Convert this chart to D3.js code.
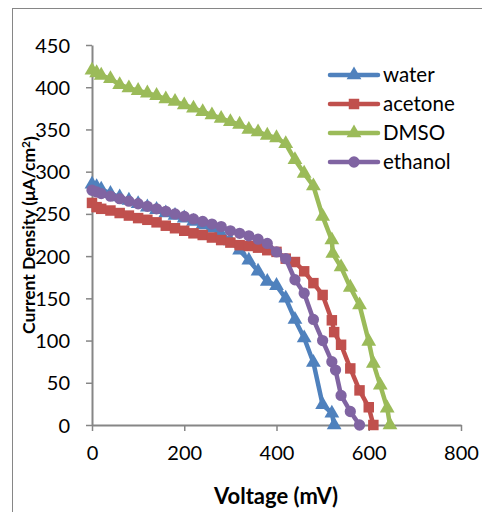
<!DOCTYPE html>
<html>
<head>
<meta charset="utf-8">
<script src="https://cdn.jsdelivr.net/npm/d3@7"></script>
<style>
  body { margin: 0; background: #fff; }
  svg { display: block; font-family: Lato, "Open Sans", sans-serif; }
</style>
</head>
<body>
<svg id="chart" width="482" height="512"></svg>
<script>
// series data (voltage in mV, current density in uA/cm2)
var waterV = [0, 10, 20, 40, 60, 80, 100, 120, 140, 160, 180, 200, 220, 240, 260, 280, 300, 320, 340, 360, 380, 400, 420, 440, 460, 480, 500, 520, 525];
var waterJ = [285, 282, 279, 274, 270, 266, 262, 258, 255, 251, 248, 245, 241, 237, 233, 226, 218, 207, 195, 182, 170, 165, 150, 125, 103, 74, 24, 14, 0];

var acetoneV = [0, 10, 20, 40, 60, 80, 100, 120, 140, 160, 180, 200, 220, 240, 260, 280, 300, 320, 340, 360, 380, 400, 420, 440, 460, 480, 500, 520, 525, 540, 560, 580, 600, 610];
var acetoneJ = [263, 258, 256, 254, 251, 248, 245, 243, 240, 236, 233, 230, 227, 225, 222, 219, 216, 213, 212, 210, 207, 205, 197, 193, 182, 168, 154, 124, 110, 95, 67, 41, 21, 0];

var dmsoV = [0, 10, 20, 40, 60, 80, 100, 120, 140, 160, 180, 200, 220, 240, 260, 280, 300, 320, 340, 360, 380, 400, 420, 440, 460, 480, 500, 520, 522, 540, 560, 580, 600, 610, 625, 640, 646];
var dmsoJ = [420, 417, 414, 410, 403, 399, 396, 393, 390, 386, 383, 379, 375, 371, 367, 363, 359, 356, 350, 347, 343, 340, 333, 314, 298, 283, 247, 219, 203, 187, 163, 142, 99, 73, 47, 20, 0];

var ethanolV = [0, 10, 20, 40, 60, 80, 100, 120, 140, 160, 180, 200, 220, 240, 260, 280, 300, 320, 340, 360, 380, 400, 420, 440, 460, 480, 500, 520, 528, 540, 560, 580];
var ethanolJ = [278, 276, 274, 271, 268, 265, 262, 259, 256, 253, 250, 247, 244, 241, 238, 235, 230, 227, 224, 220, 215, 205, 197, 172, 156, 125, 100, 75, 65, 35, 16, 0];

var names = ['water', 'acetone', 'DMSO', 'ethanol'];
var colors = ['#4f81bd', '#c0504d', '#9bbb59', '#8064a2'];
var shapes = ['triangle', 'square', 'triangle', 'circle'];
var xTicks = [0, 200, 400, 600, 800];
var yTicks = [0, 50, 100, 150, 200, 250, 300, 350, 400, 450];

var seriesV = [waterV, acetoneV, dmsoV, ethanolV];
var seriesJ = [waterJ, acetoneJ, dmsoJ, ethanolJ];

var svg = d3.select('#chart');
var axisColor = '#868686';

// outer chart frame (right and bottom edges run off the picture)
svg.append('rect')
  .attr('x', 12.5).attr('y', 8.5)
  .attr('width', 490).attr('height', 520)
  .attr('fill', 'none').attr('stroke', axisColor).attr('stroke-width', 1);

var x = d3.scaleLinear().domain([0, 800]).range([92, 461]);
var y = d3.scaleLinear().domain([0, 450]).range([425, 45]);

var xAxis = svg.append('g')
  .attr('transform', 'translate(0,' + y(0) + ')')
  .call(d3.axisBottom(x).tickValues(xTicks).tickSize(6).tickSizeOuter(0).tickPadding(15));
var yAxis = svg.append('g')
  .attr('transform', 'translate(' + x(0) + ',0)')
  .call(d3.axisLeft(y).tickValues(yTicks).tickSize(6).tickSizeOuter(0).tickPadding(16));

[xAxis, yAxis].forEach(function(ax) {
  ax.selectAll('.domain').attr('stroke', axisColor).attr('stroke-width', 2);
  ax.selectAll('.tick line').attr('stroke', axisColor).attr('stroke-width', 1.5);
  ax.selectAll('.tick text').attr('fill', '#000').style('font-size', '20px').style('font-family', 'Lato, sans-serif');
});
yAxis.selectAll('.tick text').attr('dy', '0.35em');

// axis titles
svg.append('text')
  .attr('x', 276).attr('y', 504)
  .attr('text-anchor', 'middle')
  .style('font-weight', 'bold').style('font-size', '22px')
  .text('Voltage (mV)');

var yTitle = svg.append('text')
  .attr('transform', 'translate(35,235) rotate(-90)')
  .attr('text-anchor', 'middle')
  .style('font-weight', 'bold').style('font-size', '17.5px');
yTitle.append('tspan').text('Current Density (\u03bcA/cm');
yTitle.append('tspan').attr('dy', '-0.4em').style('font-size', '12px').text('2');
yTitle.append('tspan').attr('dy', '0.4em').text(')');

var symbolFor = function(shape, size) {
  var type = shape === 'triangle' ? d3.symbolTriangle : shape === 'square' ? d3.symbolSquare : d3.symbolCircle;
  return d3.symbol().type(type).size(size)();
};
var sizeFor = function(shape) {
  return shape === 'triangle' ? 95 : shape === 'square' ? 110 : 100;
};

var line = d3.line()
  .x(function(d) { return x(d[0]); })
  .y(function(d) { return y(d[1]); });

names.forEach(function(name, i) {
  var pts = seriesV[i].map(function(v, k) { return [v, seriesJ[i][k]]; });
  var g = svg.append('g');
  g.append('path')
    .datum(pts)
    .attr('d', line)
    .attr('fill', 'none')
    .attr('stroke', colors[i])
    .attr('stroke-width', 4.5)
    .attr('stroke-linejoin', 'round');
  g.selectAll('path.mark')
    .data(pts)
    .enter().append('path')
    .attr('class', 'mark')
    .attr('d', symbolFor(shapes[i], sizeFor(shapes[i])))
    .attr('transform', function(d) { return 'translate(' + x(d[0]) + ',' + y(d[1]) + ')'; })
    .attr('fill', colors[i]);
});

// legend
var legend = svg.append('g');
var rowY = [75, 104, 133, 162];
names.forEach(function(name, i) {
  var row = legend.append('g').attr('transform', 'translate(0,' + rowY[i] + ')');
  row.append('line')
    .attr('x1', 330).attr('x2', 378)
    .attr('stroke', colors[i]).attr('stroke-width', 4.5)
    .attr('stroke-linecap', 'round');
  row.append('path')
    .attr('d', symbolFor(shapes[i], sizeFor(shapes[i])))
    .attr('transform', 'translate(354,0)')
    .attr('fill', colors[i]);
  row.append('text')
    .attr('x', 383).attr('dy', '0.35em')
    .style('font-size', '20.5px')
    .text(name);
});
</script>
</body>
</html>
